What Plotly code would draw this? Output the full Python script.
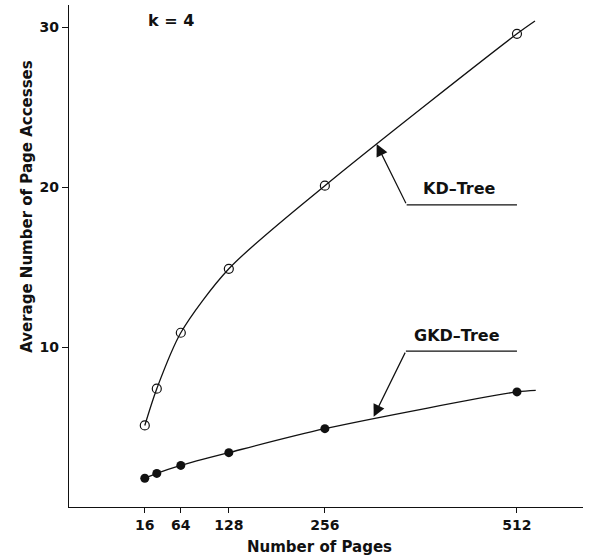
import plotly.graph_objects as go

pages = [16, 32, 64, 128, 256, 512]
kd_tree = [5.1, 7.4, 10.9, 14.9, 20.1, 29.6]
gkd_tree = [1.8, 2.1, 2.6, 3.4, 4.9, 7.2]
# curves continue a little past the last measured point
kd_curve_end = (536, 30.4)
gkd_curve_end = (537, 7.3)

x_ticks = [16, 64, 128, 256, 512]
y_ticks = [10, 20, 30]

FONT = "DejaVu Sans, sans-serif"
INK = "#111111"

fig = go.Figure()

fig.add_trace(go.Scatter(
    x=pages + [kd_curve_end[0]], y=kd_tree + [kd_curve_end[1]],
    mode="lines", line=dict(color=INK, width=1.3, shape="spline", smoothing=0.8),
    showlegend=False, hoverinfo="skip"))
fig.add_trace(go.Scatter(
    x=pages, y=kd_tree, mode="markers",
    marker=dict(symbol="circle-open", size=9, color=INK, line=dict(width=1.2)),
    showlegend=False))

fig.add_trace(go.Scatter(
    x=pages + [gkd_curve_end[0]], y=gkd_tree + [gkd_curve_end[1]],
    mode="lines", line=dict(color=INK, width=1.3, shape="spline", smoothing=0.8),
    showlegend=False, hoverinfo="skip"))
fig.add_trace(go.Scatter(
    x=pages, y=gkd_tree, mode="markers",
    marker=dict(symbol="circle", size=9, color=INK),
    showlegend=False))

# leader lines for labels
fig.add_shape(type="line", x0=365, y0=18.9, x1=512, y1=18.9,
              line=dict(color=INK, width=1.2), xref="x", yref="y")
fig.add_shape(type="line", x0=364, y0=9.75, x1=512, y1=9.75,
              line=dict(color=INK, width=1.2), xref="x", yref="y")

fig.add_annotation(x=325, y=22.7, ax=365, ay=18.9, xref="x", yref="y",
                   axref="x", ayref="y", text="", showarrow=True,
                   arrowhead=2, arrowsize=2, arrowwidth=1.2, arrowcolor=INK)
fig.add_annotation(x=321, y=5.65, ax=364, ay=9.75, xref="x", yref="y",
                   axref="x", ayref="y", text="", showarrow=True,
                   arrowhead=2, arrowsize=2, arrowwidth=1.2, arrowcolor=INK)

fig.add_annotation(x=435, y=19.9, text="<b>KD\u2013Tree</b>", showarrow=False,
                   font=dict(family=FONT, size=16, color=INK))
fig.add_annotation(x=432, y=10.75, text="<b>GKD\u2013Tree</b>", showarrow=False,
                   font=dict(family=FONT, size=16, color=INK))
fig.add_annotation(x=51, y=30.45, text="<b>k = 4</b>", showarrow=False,
                   font=dict(family=FONT, size=16, color=INK))

# axis titles
fig.add_annotation(xref="paper", yref="paper", x=0.488, y=-0.0797,
                   xanchor="center", yanchor="middle", showarrow=False,
                   text="<b>Number of Pages</b>", font=dict(family=FONT, size=15, color=INK))
fig.add_annotation(xref="paper", yref="paper", x=-0.0817, y=0.598,
                   xanchor="center", yanchor="middle", showarrow=False, textangle=-90,
                   text="<b>Average Number of Page Accesses</b>", font=dict(family=FONT, size=15, color=INK))

fig.update_layout(
    width=592, height=555,
    margin=dict(l=69, r=9, t=5, b=48),
    paper_bgcolor="white", plot_bgcolor="white",
    font=dict(family=FONT, color=INK),
    xaxis=dict(range=[-85, 600], tickvals=x_ticks, ticktext=[f"<b>{v}</b>" for v in x_ticks],
               showgrid=False, zeroline=False, showline=True, linecolor=INK, linewidth=1.2,
               ticks="outside", ticklen=5, tickcolor=INK, tickfont=dict(size=14, family=FONT),
               automargin=False),
    yaxis=dict(range=[0, 31.4], tickvals=y_ticks, ticktext=[f"<b>{v}</b>" for v in y_ticks],
               showgrid=False, zeroline=False, showline=True, linecolor=INK, linewidth=1.2,
               ticks="outside", ticklen=6, tickcolor=INK, tickfont=dict(size=14, family=FONT),
               automargin=False),
)

fig.write_html("out.html", config={"displayModeBar": False},
               post_script="document.body.style.margin='0';")
